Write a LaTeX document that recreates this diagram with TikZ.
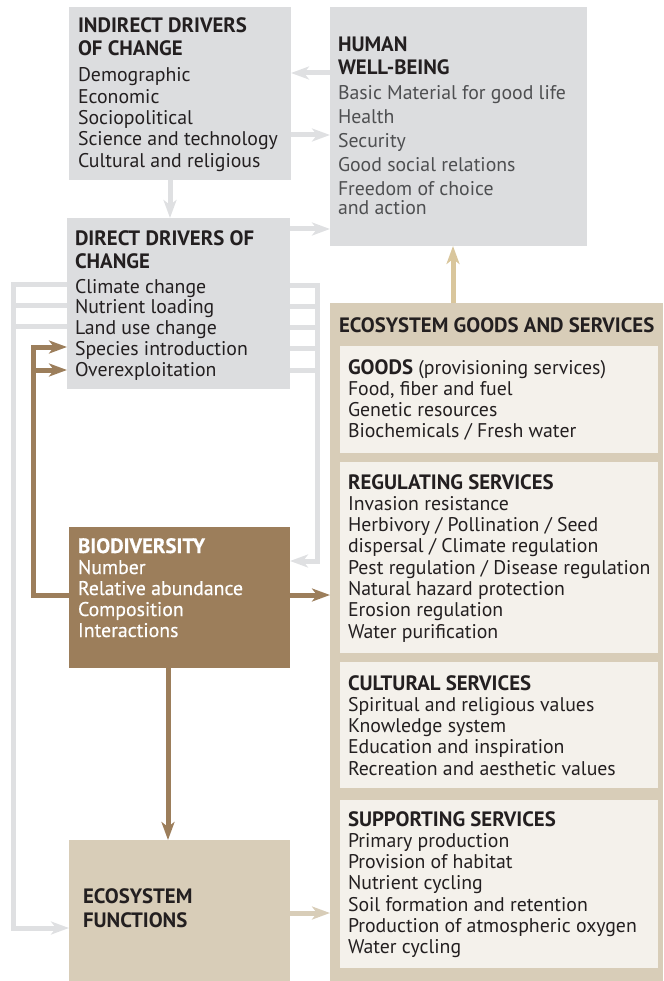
\documentclass[tikz,border=0pt]{standalone}
\usepackage{fontspec}
\setmainfont{PT Sans}
\usetikzlibrary{arrows.meta,positioning}

\definecolor{boxgrey}{HTML}{DCDDDF}
\definecolor{linegrey}{HTML}{DFE0E2}
\definecolor{biobrown}{HTML}{9C7E5B}
\definecolor{esstan}{HTML}{D8CDB8}
\definecolor{esscream}{HTML}{F4F1EB}
\definecolor{hwbgold}{HTML}{D9C69C}
\definecolor{inktext}{HTML}{231F20}
\definecolor{softtext}{HTML}{4E4F51}

\newcommand\firstline{\rule{0pt}{16pt}}
\newcommand\boxhead[1]{{\fontsize{20.8}{21.3}\selectfont\bfseries #1}}

\tikzset{
  panel/.style args={#1x#2}{anchor=north west, inner sep=0pt, outer sep=0pt,
    minimum width=#1pt, minimum height=#2pt},
  boxtext/.style={anchor=north west, inner sep=0pt, outer sep=0pt, align=left,
    text=inktext, font=\fontsize{19.8}{21.3}\selectfont},
  flow/.style={line width=5pt, -{Stealth[length=18pt,width=13pt,inset=5pt]}},
  greyline/.style={line width=5pt, draw=linegrey},
  greyflow/.style={flow, draw=linegrey},
  brownflow/.style={flow, draw=biobrown}
}

\begin{document}
\begin{tikzpicture}[x=1pt,y=-1pt]
  \useasboundingbox (0,0) rectangle (663,981);

  % boxes
  \node [panel=222x173, fill=boxgrey] (indirect) at (69,7) {};
  \node [panel=257x239, fill=boxgrey] (hwb) at (330,7) {};
  \node [panel=223x171, fill=boxgrey] (direct) at (67,218) {};
  \node [panel=221x141, fill=biobrown] (biodiv) at (69,527) {};
  \node [panel=221x141, fill=esstan] (functions) at (69,840) {};
  \node [panel=333x678, fill=esstan] (ess) at (330,303) {};
  \node [panel=318x107, fill=esscream] (goods) at (340,346) {};
  \node [panel=318x191, fill=esscream] (regulating) at (340,462) {};
  \node [panel=318x126, fill=esscream] (cultural) at (340,662) {};
  \node [panel=318x168, fill=esscream] (supporting) at (340,800) {};

  % texts
  \node [boxtext, below right=10pt and 9pt of indirect.north west] (indirecttxt)
    {\firstline\boxhead{INDIRECT DRIVERS}\\[1.7pt]\boxhead{OF CHANGE}\\[4.7pt]
     Demographic\\ Economic\\ Sociopolitical\\ Science and technology\\ Cultural and religious};
  \node [boxtext, text=softtext, font=\fontsize{19.8}{24}\selectfont,
    below right=29pt and 8pt of hwb.north west] (hwbtxt)
    {\firstline{\color{inktext}\boxhead{HUMAN}}\\[-1pt]{\color{inktext}\boxhead{WELL-BEING}}\\[1pt]
     Basic Material for good life\\ Health\\ Security\\ Good social relations\\
     Freedom of choice\\[-5pt] and action};
  \node [boxtext, font=\fontsize{19.8}{20.8}\selectfont,
    below right=11pt and 8pt of direct.north west] (directtxt)
    {\firstline\boxhead{DIRECT DRIVERS OF}\\[2.2pt]\boxhead{CHANGE}\\[4.2pt]
     Climate change\\ Nutrient loading\\ Land use change\\ Species introduction\\ Overexploitation};
  \node [boxtext, text=white, font=\fontsize{19.8}{21}\selectfont\addfontfeature{FakeBold=0.5},
    below right=10pt and 9pt of biodiv.north west] (biodivtxt)
    {\firstline\boxhead{BIODIVERSITY}\\ Number\\ Relative abundance\\ Composition\\ Interactions};
  \node [boxtext, below right=47pt and 14pt of functions.north west] (functionstxt)
    {\firstline\boxhead{ECOSYSTEM}\\[2.7pt]\boxhead{FUNCTIONS}};
  \node [boxtext, below right=13pt and 9pt of ess.north west] (esstxt)
    {\firstline\boxhead{ECOSYSTEM GOODS AND SERVICES}};
  \node [boxtext, font=\fontsize{19.8}{21}\selectfont,
    below right=12pt and 8pt of goods.north west] (goodstxt)
    {\firstline\boxhead{GOODS} (provisioning services)\\ Food, fiber and fuel\\
     Genetic resources\\ Biochemicals / Fresh water};
  \node [boxtext, below right=11pt and 8pt of regulating.north west] (regulatingtxt)
    {\firstline\boxhead{REGULATING SERVICES}\\ Invasion resistance\\
     Herbivory / Pollination / Seed\\ dispersal / Climate regulation\\
     Pest regulation / Disease regulation\\ Natural hazard protection\\
     Erosion regulation\\ Water purification};
  \node [boxtext, below right=12pt and 8pt of cultural.north west] (culturaltxt)
    {\firstline\boxhead{CULTURAL SERVICES}\\ Spiritual and religious values\\
     Knowledge system\\ Education and inspiration\\ Recreation and aesthetic values};
  \node [boxtext, below right=10pt and 8pt of supporting.north west] (supportingtxt)
    {\firstline\boxhead{SUPPORTING SERVICES}\\ Primary production\\ Provision of habitat\\
     Nutrient cycling\\ Soil formation and retention\\ Production of atmospheric oxygen\\
     Water cycling};

  % connectors
  \coordinate (lbus) at (13,284);
  \coordinate (rbus) at (317,285);
  \coordinate (bbus) at (33,595);
  \draw [greyflow] (hwb.west |- 0,73) -- (indirect.east |- 0,73);
  \draw [greyflow] (indirect.east |- 0,135) -- (hwb.west |- 0,135);
  \draw [greyflow] (indirect.south -| 170,0) -- (direct.north -| 170,0);
  \draw [greyflow] (direct.east |- 0,229) -- (hwb.west |- 0,229);
  \draw [greyflow] (direct.west |- lbus) -- (lbus) |- (functions.west |- 0,928);
  \foreach \y in {305,326}
    \draw [greyline] (direct.west |- 0,\y) -- (lbus |- 0,\y);
  \draw [greyflow] (direct.east |- rbus) -- (rbus) |- (biodiv.east |- 0,561);
  \foreach \y in {306,327,348,370}
    \draw [greyline] (direct.east |- 0,\y) -- (rbus |- 0,\y);
  \draw [brownflow] (biodiv.west |- bbus) -- (bbus) |- (direct.west |- 0,347);
  \draw [brownflow] (bbus |- 0,370) -- (direct.west |- 0,370);
  \draw [brownflow] (biodiv.east |- 0,595) -- (ess.west |- 0,595);
  \draw [brownflow] (biodiv.south -| 168,0) -- (functions.north -| 168,0);
  \draw [flow, draw=esstan] (functions.east |- 0,913) -- (ess.west |- 0,913);
  \draw [flow, draw=hwbgold] (ess.north -| 453,0) -- (hwb.south -| 453,0);
\end{tikzpicture}
\end{document}
